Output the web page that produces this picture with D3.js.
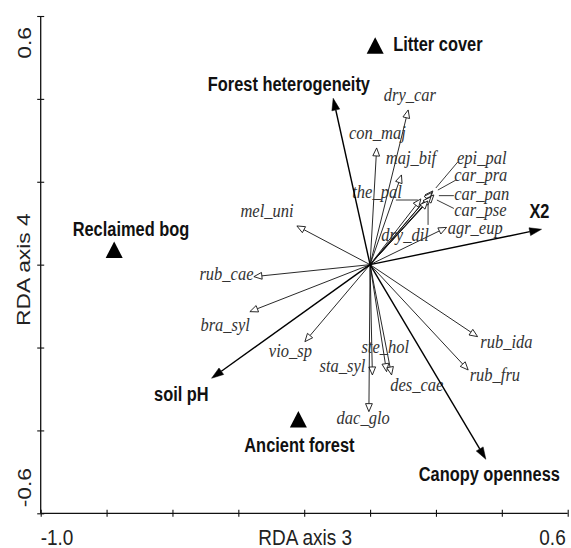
<!DOCTYPE html>
<html>
<head>
<meta charset="utf-8">
<script src="https://cdn.jsdelivr.net/npm/d3@7"></script>
<style>
  html, body { margin: 0; padding: 0; background: #fff; }
  svg { display: block; }
</style>
</head>
<body>
<svg id="chart" width="571" height="548"></svg>
<script>
// ---------------- data ----------------
const xTickValues = [-1.0, -0.8, -0.6, -0.4, -0.2, 0.0, 0.2, 0.4, 0.6];
const yTickValues = [-0.6, -0.4, -0.2, 0.0, 0.2, 0.4, 0.6];
const xTickLabels = ["-1.0", "0.6"];
const yTickLabels = ["-0.6", "0.6"];
const xTitle = "RDA axis 3";
const yTitle = "RDA axis 4";

// species arrows (tip coordinates on RDA axes 3 / 4)
const speciesNames = ["dry_car","con_maj","maj_bif","the_pal","epi_pal","car_pra","car_pan","car_pse","dry_dil","agr_eup",
                      "mel_uni","rub_cae","bra_syl","vio_sp","sta_syl","dac_glo","ste_hol","des_cae","rub_ida","rub_fru"];
const speciesX = [0.1157, 0.0200, 0.0953, 0.1542, 0.1906, 0.1876, 0.1937, 0.1846, 0.1755, 0.2322,
                  -0.2222, -0.3528, -0.3649, -0.1979, 0.0070, -0.0036, 0.0501, 0.0653, 0.3264, 0.2978];
const speciesY = [0.3733, 0.2816, 0.2165, 0.1586, 0.1779, 0.1742, 0.1682, 0.1634, 0.1537, 0.0898,
                  0.0934, -0.0290, -0.1134, -0.1858, -0.2662, -0.3547, -0.2582, -0.2662, -0.1737, -0.2541];
// species label anchors (axis units)
const speciesLabelX = [0.121, 0.022, 0.124, 0.021, 0.339, 0.336, 0.339, 0.335, 0.106, 0.319,
                       -0.313, -0.436, -0.440, -0.242, -0.084, -0.021, 0.046, 0.142, 0.414, 0.379];
const speciesLabelY = [0.405, 0.313, 0.253, 0.171, 0.253, 0.212, 0.166, 0.128, 0.068, 0.084,
                       0.127, -0.025, -0.150, -0.212, -0.249, -0.373, -0.202, -0.294, -0.190, -0.270];
// leader lines for crowded labels (axis units)
const leaderNames = ["the_pal","epi_pal","car_pra","car_pan","car_pse","dry_dil"];
const leaderX1 = [0.0783, 0.1997, 0.2058, 0.2089, 0.2028, 0.1761];
const leaderY1 = [0.1560, 0.1850, 0.1800, 0.1665, 0.1560, 0.1441];
const leaderX2 = [0.1451, 0.2665, 0.2604, 0.2544, 0.2544, 0.1761];
const leaderY2 = [0.1560, 0.2480, 0.2040, 0.1665, 0.1356, 0.0959];

// environmental variables (arrows)
const envNames = ["Forest heterogeneity", "X2", "soil pH", "Canopy openness"];
const envX = [-0.1120, 0.5206, -0.4812, 0.3515];
const envY = [0.4015, 0.0854, -0.2741, -0.4696];
const envLabelX = [-0.2465, 0.5141, -0.5729, 0.3619];
const envLabelY = [0.4190, 0.1127, -0.3282, -0.5221];

// nominal variables (centroids)
const centroidNames = ["Litter cover", "Reclaimed bog", "Ancient forest"];
const centroidX = [0.0155, -0.7769, -0.2177];
const centroidY = [0.5282, 0.0355, -0.3735];
const centroidLabelX = [0.2058, -0.7260, -0.2146];
const centroidLabelY = [0.5157, 0.0692, -0.4510];

// ---------------- drawing ----------------
const svg = d3.select("#chart");
const x = d3.scaleLinear().domain([-1.0, 0.6]).range([40.7, 567.7]);
const y = d3.scaleLinear().domain([-0.6, 0.6]).range([513.3, 16]);
const SY = 1.2; // vertical stretch of the original figure

const sansFont = "'Liberation Sans', Arial, Helvetica, sans-serif";
const serifFont = "'Liberation Serif', 'Times New Roman', Times, serif";

// axes
const gx = svg.append("g").attr("transform", `translate(0,${y(-0.6)})`)
  .call(d3.axisBottom(x).tickValues(xTickValues).tickSize(0).tickFormat(""));
gx.select(".domain").attr("d", `M${x(-1.0)},0H${x(0.6)}`).attr("stroke", "#111").attr("stroke-width", 1.3);
gx.selectAll(".tick line").attr("y1", -3.5).attr("y2", 3.5).attr("stroke", "#111").attr("stroke-width", 1.1);

const gy = svg.append("g").attr("transform", `translate(${x(-1.0)},0)`)
  .call(d3.axisLeft(y).tickValues(yTickValues).tickSize(0).tickFormat(""));
gy.select(".domain").attr("d", `M0,${y(0.6)}V${y(-0.6)}`).attr("stroke", "#111").attr("stroke-width", 1.3);
gy.selectAll(".tick line").attr("x1", -3.5).attr("x2", 3.5).attr("stroke", "#111").attr("stroke-width", 1.1);

// tick labels
svg.append("text").text(xTickLabels[0])
  .attr("transform", `translate(${x(-1.0)},545) scale(1,${SY})`)
  .attr("text-anchor", "start").attr("font-family", sansFont).attr("font-size", 19).attr("fill", "#222");
svg.append("text").text(xTickLabels[1])
  .attr("transform", `translate(${x(0.6) - 2},545) scale(1,${SY})`)
  .attr("text-anchor", "end").attr("font-family", sansFont).attr("font-size", 19).attr("fill", "#222");
svg.append("text").text(yTickLabels[0])
  .attr("transform", `translate(31,${y(-0.6) - 6}) scale(1,${SY}) rotate(-90)`)
  .attr("text-anchor", "start").attr("font-family", sansFont).attr("font-size", 19).attr("fill", "#222");
svg.append("text").text(yTickLabels[1])
  .attr("transform", `translate(31,${y(0.6) + 11}) scale(1,${SY}) rotate(-90)`)
  .attr("text-anchor", "end").attr("font-family", sansFont).attr("font-size", 19).attr("fill", "#222");

// axis titles
svg.append("text").text(xTitle)
  .attr("transform", `translate(${(x(-1.0) + x(0.6)) / 2 + 1},545) scale(1,${SY})`)
  .attr("text-anchor", "middle").attr("font-family", sansFont).attr("font-size", 19).attr("fill", "#222");
svg.append("text").text(yTitle)
  .attr("transform", `translate(30,${y(0) + 5}) scale(1,${SY}) rotate(-90)`)
  .attr("text-anchor", "middle").attr("font-family", sansFont).attr("font-size", 19).attr("fill", "#222");

// arrow helper
function arrow(g, tx, ty, opts) {
  const ox = x(0), oy = y(0);
  const px = x(tx), py = y(ty);
  const dx = px - ox, dy = py - oy;
  const len = Math.hypot(dx, dy);
  const ux = dx / len, uy = dy / len;
  const nx = -uy, ny = ux;
  const bx = px - ux * opts.headLen, by = py - uy * opts.headLen;
  g.append("line")
    .attr("x1", ox).attr("y1", oy).attr("x2", bx).attr("y2", by)
    .attr("stroke", opts.color).attr("stroke-width", opts.width);
  g.append("path")
    .attr("d", `M${px},${py}L${bx + nx * opts.headW},${by + ny * opts.headW}L${bx - nx * opts.headW},${by - ny * opts.headW}Z`)
    .attr("fill", opts.fill).attr("stroke", opts.color).attr("stroke-width", opts.headStroke)
    .attr("stroke-linejoin", "miter");
}

// species arrows
const gs = svg.append("g");
speciesNames.forEach((n, i) => {
  arrow(gs, speciesX[i], speciesY[i], { color: "#111", width: 0.9, headLen: 8, headW: 3.4, fill: "#fff", headStroke: 0.9 });
});

// leader lines
leaderNames.forEach((n, i) => {
  gs.append("line")
    .attr("x1", x(leaderX1[i])).attr("y1", y(leaderY1[i]))
    .attr("x2", x(leaderX2[i])).attr("y2", y(leaderY2[i]))
    .attr("stroke", "#222").attr("stroke-width", 0.9);
});

// species labels
speciesNames.forEach((n, i) => {
  gs.append("text").text(n)
    .attr("transform", `translate(${x(speciesLabelX[i])},${y(speciesLabelY[i])}) scale(1,${SY})`)
    .attr("text-anchor", "middle").attr("dominant-baseline", "middle")
    .attr("font-family", serifFont).attr("font-style", "italic").attr("font-size", 16.5)
    .attr("fill", "#333");
});

// environmental arrows
const ge = svg.append("g");
envNames.forEach((n, i) => {
  arrow(ge, envX[i], envY[i], { color: "#000", width: 1.4, headLen: 12, headW: 4, fill: "#000", headStroke: 0.5 });
  ge.append("text").text(n)
    .attr("transform", `translate(${x(envLabelX[i])},${y(envLabelY[i])}) scale(1,${SY})`)
    .attr("text-anchor", "middle")
    .attr("font-family", sansFont).attr("font-weight", "bold").attr("font-size", 16.4)
    .attr("fill", "#111");
});

// centroids
const gc = svg.append("g");
centroidNames.forEach((n, i) => {
  const cx = x(centroidX[i]), cy = y(centroidY[i]);
  gc.append("path")
    .attr("d", `M${cx},${cy - 8.5}L${cx + 8.5},${cy + 8}L${cx - 8.5},${cy + 8}Z`)
    .attr("fill", "#000");
  gc.append("text").text(n)
    .attr("transform", `translate(${x(centroidLabelX[i])},${y(centroidLabelY[i])}) scale(1,${SY})`)
    .attr("text-anchor", "middle")
    .attr("font-family", sansFont).attr("font-weight", "bold").attr("font-size", 16.4)
    .attr("fill", "#111");
});
</script>
</body>
</html>
